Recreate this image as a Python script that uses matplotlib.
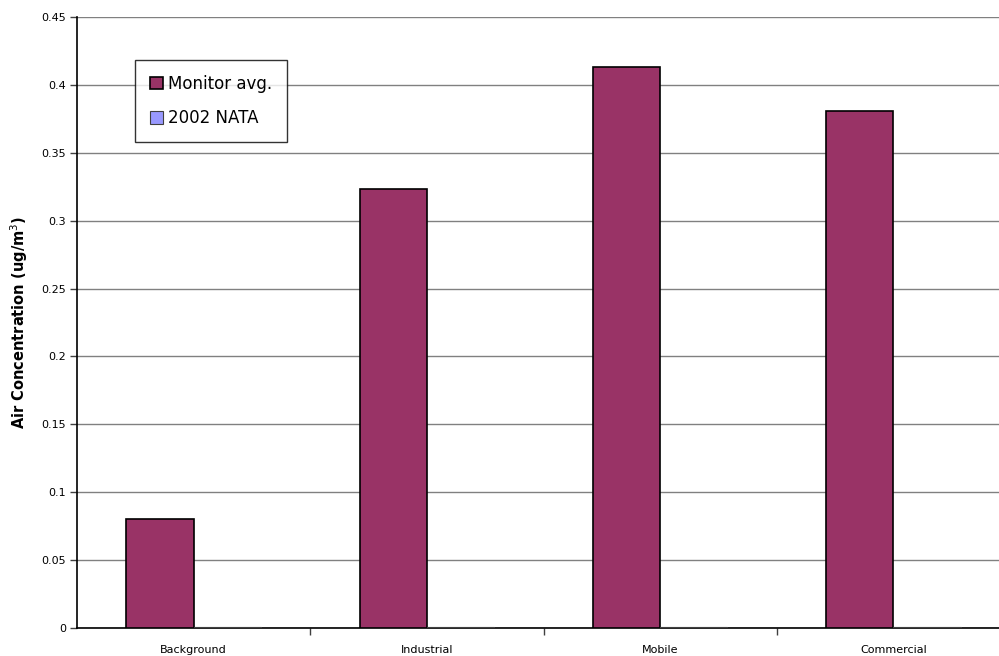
import numpy as np
import matplotlib
matplotlib.use("Agg")
import matplotlib.pyplot as plt
from matplotlib.ticker import FixedLocator, NullFormatter

categories = ["Background", "Industrial", "Mobile", "Commercial"]
monitor_avg = [0.080, 0.3233, 0.4133, 0.3805]
nata_2002 = [0.0005, 0.0005, 0.0005, 0.0005]

plt.rcParams['font.family'] = ['DejaVu Sans']

fig = plt.figure(figsize=(9.99, 6.56), dpi=100)
ax = fig.add_axes([0.0771, 0.0427, 0.934, 0.9314])

x = np.arange(len(categories))
w = 0.288
ax.bar(x - w / 2, monitor_avg, w, color="#993366", edgecolor="black",
       linewidth=1.2, label="Monitor avg.", zorder=3)
ax.bar(x + w / 2, nata_2002, w, color="#9999FF", edgecolor="#404040",
       linewidth=0.8, label="2002 NATA", zorder=3)

ax.set_xlim(-0.5, len(categories) - 0.5)
ax.set_ylim(0, 0.45)
ax.set_yticks(np.arange(0, 0.451, 0.05))
ax.set_yticklabels(["0", "0.05", "0.1", "0.15", "0.2", "0.25", "0.3",
                    "0.35", "0.4", "0.45"], fontsize=8)
ax.yaxis.grid(True, color="#808080", linewidth=1.0, zorder=0)
ax.set_axisbelow(True)

# category names centred, ticks on the boundaries between categories
ax.set_xticks(x)
ax.set_xticklabels(categories, fontsize=8)
ax.tick_params(axis="x", which="major", length=0, pad=12)
ax.xaxis.set_minor_locator(FixedLocator(x[:-1] + 0.5))
ax.xaxis.set_minor_formatter(NullFormatter())
ax.tick_params(axis="x", which="minor", length=5, width=1, color="#404040")
ax.tick_params(axis="y", length=5, width=1, color="#404040", pad=3)

for side in ["top", "right"]:
    ax.spines[side].set_visible(False)
ax.spines["left"].set_linewidth(1.2)
ax.spines["bottom"].set_linewidth(1.2)

ax.set_ylabel("Air Concentration (ug/m$^3$)", fontsize=10.5, fontweight="bold",
              labelpad=8)

leg = ax.legend(loc="upper left", bbox_to_anchor=(0.062, 0.93), fontsize=12,
                frameon=True, fancybox=False, edgecolor="black",
                handlelength=0.8, handleheight=0.8, handletextpad=0.3,
                labelspacing=1.0, borderpad=0.9, borderaxespad=0)
leg.get_frame().set_linewidth(1.0)

fig.savefig("out.png", dpi=100)
